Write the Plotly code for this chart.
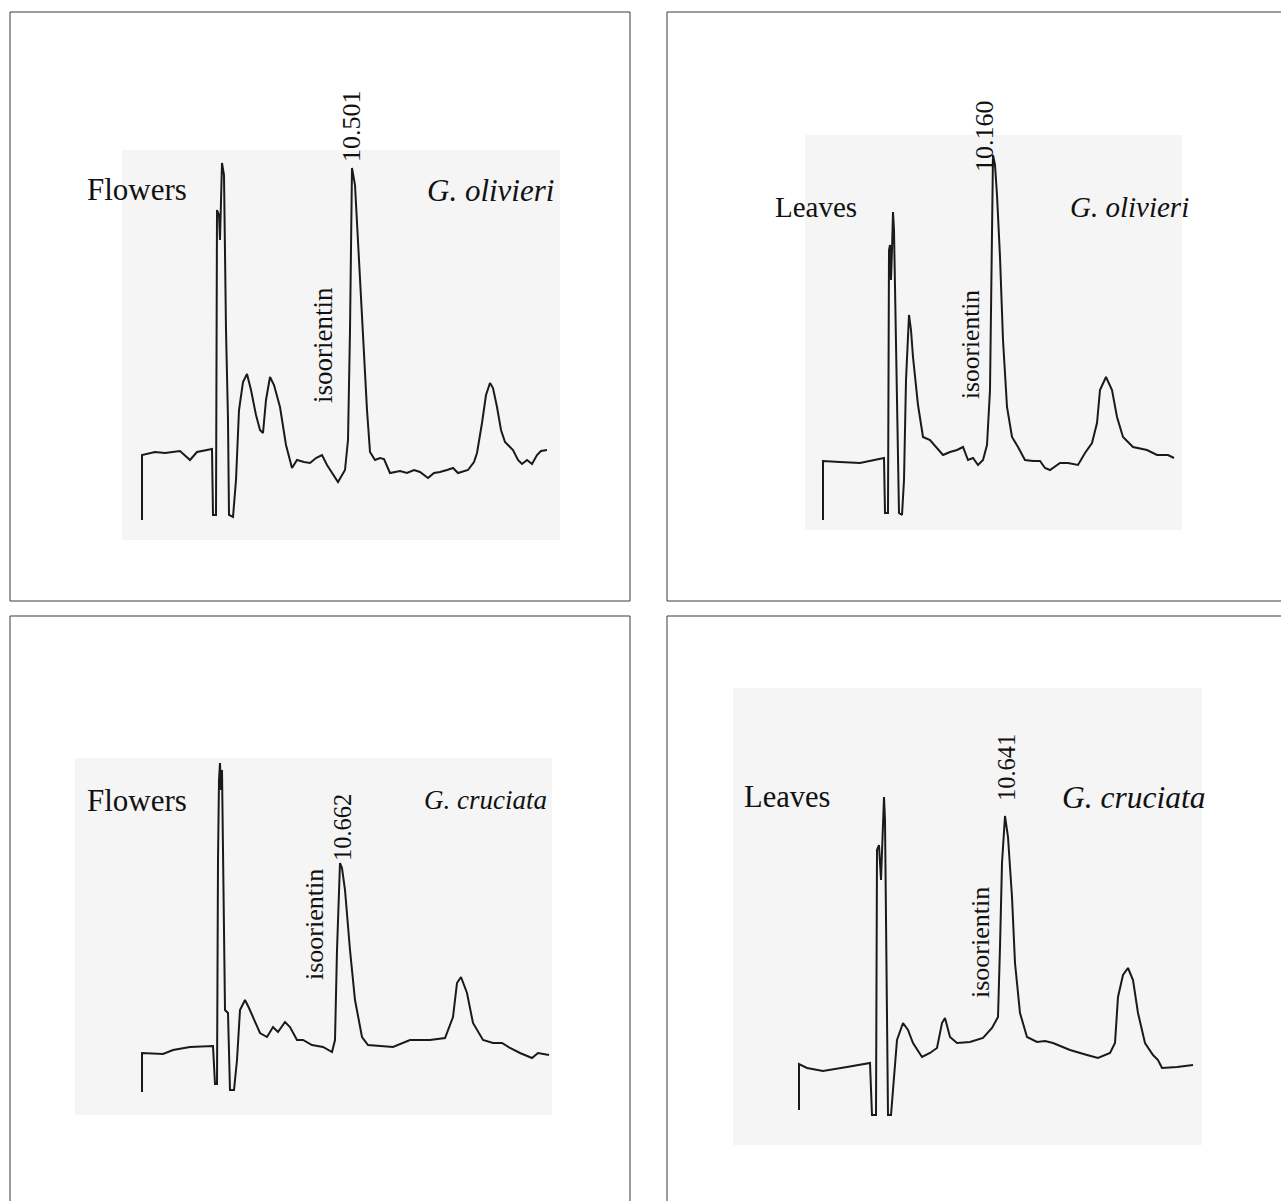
import plotly.graph_objects as go

W, H = 1281, 1201

# ---- chromatogram data (time in min, detector signal in arbitrary units) ----
TL_time = [0.0, 0.0, 0.65, 1.15, 1.9, 2.4, 2.75, 3.5, 3.55, 3.7, 3.75, 3.85, 3.9, 4.0, 4.1, 4.15, 4.2, 4.3,
           4.35, 4.55, 4.7, 4.85, 5.05, 5.25, 5.45, 5.7, 5.9, 6.05, 6.2, 6.4, 6.6, 6.9, 7.2, 7.5, 7.75, 8.1,
           8.4, 8.7, 9.0, 9.25, 9.55, 9.8, 10.15, 10.3, 10.4, 10.5, 10.65, 10.8, 10.95, 11.1, 11.25, 11.4,
           11.65, 11.9, 12.1, 12.4, 12.9, 13.25, 13.6, 13.9, 14.3, 14.6, 14.9, 15.25, 15.55, 15.8, 16.3,
           16.6, 16.75, 17.0, 17.2, 17.4, 17.55, 17.75, 17.95, 18.15, 18.55, 18.8, 19.0, 19.25, 19.5,
           19.75, 19.95, 20.25]
TL_signal = [-65, 0, 3, 2, 4, -5, 3, 6, -60, -60, 245, 240, 215, 292, 280, 205, 125, 35,
             -60, -62, -25, 45, 73, 81, 65, 40, 25, 22, 55, 78, 70, 48, 10, -13, -5, -7,
             -8, -3, 0, -10, -20, -27, -15, 15, 125, 287, 270, 215, 155, 95, 45, 3,
             -5, -3, -4, -18, -16, -18, -15, -17, -23, -18, -17, -15, -13, -18, -15,
             -7, 2, 32, 60, 72, 67, 48, 25, 13, 5, -5, -9, -5, -9,
             0, 4, 5]

TR_time = [1.66, 1.66, 2.51, 3.51, 4.71, 4.76, 4.91, 4.96, 5.01, 5.06, 5.11, 5.16, 5.21, 5.31, 5.41,
           5.46, 5.61, 5.71, 5.81, 5.96, 6.06, 6.16, 6.41, 6.66, 7.01, 7.36, 7.66, 8.01, 8.36, 8.66,
           8.91, 9.16, 9.41, 9.66, 9.86, 10.01, 10.11, 10.16, 10.26, 10.36, 10.51, 10.66, 10.86, 11.11,
           11.41, 11.76, 12.16, 12.51, 12.76, 13.01, 13.51, 13.91, 14.41, 14.76, 15.11, 15.36, 15.51,
           15.81, 16.11, 16.36, 16.66, 17.16, 17.86, 18.36, 18.91, 19.21]
TR_signal = [-59, 0, -1, -2, 3, -52, -52, 211, 216, 181, 211, 249, 231, 131, 11,
             -52, -54, -19, 81, 146, 131, 104, 56, 24, 21, 13, 6, 9, 11, 14,
             1, 3, -4, 1, 16, 71, 231, 306, 296, 266, 204, 121, 54, 24,
             14, 1, 0, 0, -7, -9, -2, -2, -4, 8, 18, 38, 71,
             84, 71, 44, 24, 14, 11, 6, 6, 3]

BL_time = [0.76, 0.76, 1.81, 2.31, 3.16, 4.31, 4.41, 4.51, 4.56, 4.61, 4.66, 4.71, 4.76, 4.81, 4.86,
           4.91, 5.06, 5.16, 5.36, 5.51, 5.66, 5.91, 6.11, 6.31, 6.66, 7.01, 7.31, 7.56, 7.91, 8.16,
           8.51, 8.81, 9.26, 9.81, 10.26, 10.41, 10.51, 10.66, 10.76, 10.91, 11.16, 11.41, 11.76, 12.06,
           12.66, 13.31, 14.16, 15.16, 15.91, 16.31, 16.51, 16.71, 17.01, 17.31, 17.81, 18.31, 18.76,
           19.16, 19.66, 20.26, 20.56, 21.11]
BL_signal = [-39, 0, -1, 3, 6, 7, -31, -31, 193, 273, 290, 263, 283, 203, 153,
             43, 40, -37, -37, -7, 43, 53, 45, 36, 20, 16, 26, 21, 31, 26,
             13, 13, 8, 6, 1, 13, 103, 190, 185, 163, 103, 53, 16, 8,
             7, 6, 13, 13, 15, 36, 70, 76, 60, 30, 13, 10, 10,
             5, 0, -5, 0, -2]

BR_time = [0.34, 0.34, 0.74, 1.54, 2.74, 3.89, 3.99, 4.19, 4.24, 4.34, 4.44, 4.54, 4.59, 4.64, 4.69,
           4.79, 4.94, 5.09, 5.24, 5.54, 5.79, 6.04, 6.49, 6.89, 7.24, 7.49, 7.64, 7.89, 8.24, 8.89,
           9.54, 9.99, 10.29, 10.39, 10.49, 10.64, 10.79, 10.99, 11.14, 11.39, 11.74, 12.24, 12.64,
           13.04, 13.89, 14.74, 15.29, 15.89, 16.14, 16.29, 16.54, 16.79, 17.04, 17.29, 17.64, 18.04,
           18.29, 18.49, 19.24, 20.04]
BR_signal = [-42, 4, 0, -3, 1, 5, -47, -47, 218, 223, 188, 238, 271, 248, 168,
             -47, -47, -12, 28, 45, 38, 25, 11, 15, 20, 45, 50, 31, 25, 26,
             30, 40, 51, 121, 205, 252, 231, 171, 105, 55, 31, 26, 27,
             25, 18, 13, 10, 15, 25, 71, 93, 100, 88, 55, 25, 13,
             8, 0, 1, 3]

organ_labels = ["Flowers", "Leaves", "Flowers", "Leaves"]
species_labels = ["G. olivieri", "G. olivieri", "G. cruciata", "G. cruciata"]
peak_labels = ["10.501", "10.160", "10.662", "10.641"]
compound_label = "isoorientin"

# ---- layout helpers (pixel positions -> paper) ----
def px(x):
    return x / W

def py(y):
    return 1 - y / H

panels = [
    dict(t=TL_time, s=TL_signal, xr=[-1.0, 20.9], yr=[-85, 305], bx=(122, 560), by=(150, 540),
         frame=(10, 12, 630, 601),
         organ=(137, 189), species=(490, 190), peak=(352, 126), comp=(323, 345),
         fs=(31, 31, 26, 27)),
    dict(t=TR_time, s=TR_signal, xr=[0.76, 19.61], yr=[-69, 326], bx=(805, 1182), by=(135, 530),
         frame=(667, 12, 1290, 601),
         organ=(816, 207), species=(1129, 207), peak=(985, 136), comp=(971, 344),
         fs=(29, 29, 26, 25.5)),
    dict(t=BL_time, s=BL_signal, xr=[-2.59, 21.26], yr=[-62, 295], bx=(75, 552), by=(758, 1115),
         frame=(10, 616, 630, 1210),
         organ=(137, 800), species=(486, 800), peak=(342, 828), comp=(314, 925),
         fs=(31, 27, 24.5, 26)),
    dict(t=BR_time, s=BR_signal, xr=[-2.96, 20.49], yr=[-77, 380], bx=(733, 1202), by=(688, 1145),
         frame=(667, 616, 1290, 1210),
         organ=(787, 797), species=(1133, 797), peak=(1006, 768), comp=(980, 943),
         fs=(30.5, 31.5, 24.5, 26)),
]

fig = go.Figure()
shapes = []
annotations = []
font_family = "Liberation Serif, Times New Roman, serif"
ink = "#111111"

for i, p in enumerate(panels):
    n = "" if i == 0 else str(i + 1)
    fs_organ, fs_species, fs_peak, fs_comp = p["fs"]
    fig.add_trace(go.Scatter(x=p["t"], y=p["s"], mode="lines",
                             line=dict(color="#1a1a1a", width=2),
                             xaxis="x" + n, yaxis="y" + n, showlegend=False, hoverinfo="skip"))
    fig.update_layout({
        "xaxis" + n: dict(domain=[px(p["bx"][0]), px(p["bx"][1])], range=p["xr"], visible=False,
                          anchor="y" + n, fixedrange=True),
        "yaxis" + n: dict(domain=[py(p["by"][1]), py(p["by"][0])], range=p["yr"], visible=False,
                          anchor="x" + n, fixedrange=True),
    })
    x0, y0, x1, y1 = p["frame"]
    shapes.append(dict(type="rect", xref="paper", yref="paper", x0=px(x0), x1=px(x1),
                       y0=py(y1), y1=py(y0), line=dict(color="#3a3a3a", width=1), layer="above"))
    annotations.append(dict(text=organ_labels[i], x=px(p["organ"][0]), y=py(p["organ"][1]),
                            xref="paper", yref="paper", showarrow=False, xanchor="center",
                            yanchor="middle", font=dict(family=font_family, size=fs_organ, color=ink)))
    annotations.append(dict(text="<i>" + species_labels[i] + "</i>", x=px(p["species"][0]),
                            y=py(p["species"][1]), xref="paper", yref="paper", showarrow=False,
                            xanchor="center", yanchor="middle",
                            font=dict(family=font_family, size=fs_species, color=ink)))
    annotations.append(dict(text=peak_labels[i], x=px(p["peak"][0]), y=py(p["peak"][1]),
                            xref="paper", yref="paper", showarrow=False, textangle=-90,
                            xanchor="center", yanchor="middle",
                            font=dict(family=font_family, size=fs_peak, color=ink)))
    annotations.append(dict(text=compound_label, x=px(p["comp"][0]), y=py(p["comp"][1]),
                            xref="paper", yref="paper", showarrow=False, textangle=-90,
                            xanchor="center", yanchor="middle",
                            font=dict(family=font_family, size=fs_comp, color=ink)))

fig.update_layout(width=W, height=H, margin=dict(l=0, r=0, t=0, b=0),
                  paper_bgcolor="white", plot_bgcolor="#f5f5f5",
                  shapes=shapes, annotations=annotations, showlegend=False)

fig.write_html("out.html", config={"displayModeBar": False, "staticPlot": True},
               post_script="document.body.style.margin='0';document.body.style.overflow='hidden';")
